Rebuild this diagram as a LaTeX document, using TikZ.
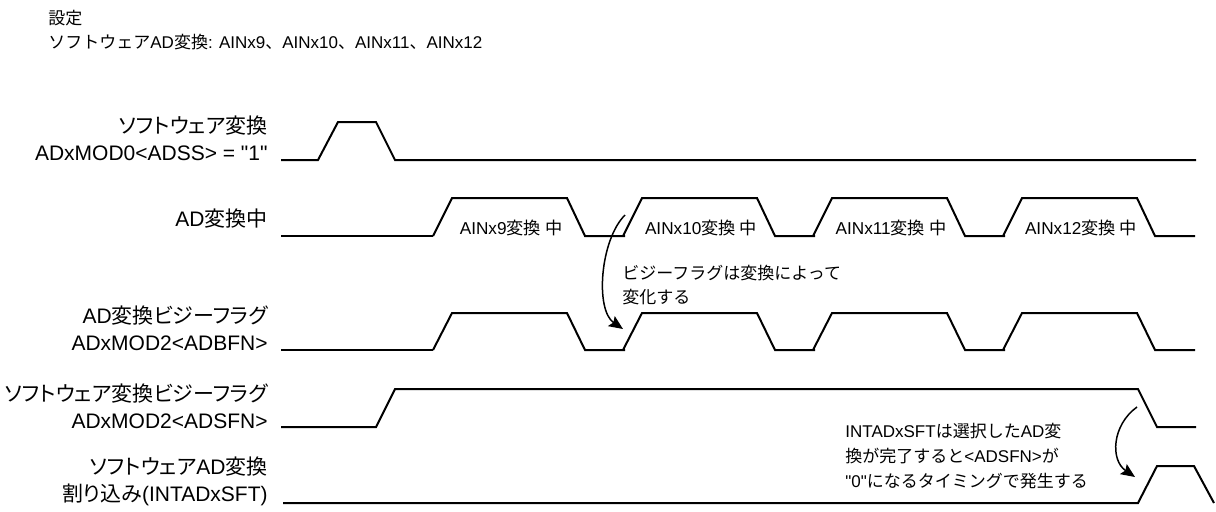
\documentclass[tikz,border=0pt]{standalone}
\usepackage{fontspec}
\setmainfont{Liberation Sans}[Ligatures=TeXOff]
\newfontfamily\jpfont{Noto Sans CJK JP}[RawFeature=+palt]
\newfontfamily\jpmfont{Noto Sans CJK JP}
\newcommand{\ja}[1]{{\jpfont #1}}
\newcommand{\jm}[1]{{\jpmfont #1}}
\usetikzlibrary{arrows.meta}
\tikzset{
  sig/.style={anchor=east, align=right, inner sep=0pt, font=\fontsize{10.5}{13.5}\selectfont},
  wave/.style={line width=1pt, line join=miter},
  pulsetxt/.style={font=\fontsize{8.6}{10}\selectfont, inner sep=0pt},
  note/.style={anchor=west, align=left, inner sep=0pt, font=\fontsize{8.5}{12}\selectfont},
  notearr/.style={-{Stealth[length=7pt, width=6pt, inset=1.2pt]}, line width=0.75pt},
}

\begin{document}
\begin{tikzpicture}[x=0.5pt, y=-0.5pt]
  \useasboundingbox (0,0) rectangle (1216,511);

  % header
  \node[note] (hdr) at (48,30)
    {\jm{設定}\\\jm{ソフトウェア}AD\jm{変換}: AINx9\jm{、}AINx10\jm{、}AINx11\jm{、}AINx12};

  % signal names
  \node[sig] (nadss) at (268,138) {\ja{ソフトウェア変換}\\ADxMOD0<ADSS> = "1"};
  \node[sig] (nconv) at (268,219) {AD\ja{変換中}};
  \node[sig] (nadbfn) at (268,328) {AD\ja{変換ビジーフラグ}\\ADxMOD2<ADBFN>};
  \node[sig] (nadsfn) at (268,406) {\ja{ソフトウェア変換ビジーフラグ}\\ADxMOD2<ADSFN>};
  \node[sig] (nint) at (268,481) {\ja{ソフトウェア}AD\ja{変換}\\\ja{割り込み}(INTADxSFT)};

  % ADSS
  \draw[wave] (281,160) -- (318,160) -- (338,122) -- (376,122) -- (395,160) -- (1196,160);

  % AD conversion / ADBFN
  \draw[wave] (281,236) -- (433,236);
  \draw[wave] (281,350) -- (433,350);
  \foreach \x/\n in {433/9, 623/10, 813/11, 1003/12} {
    \draw[wave] (\x,236) -- ++(19,-38) -- ++(115,0) -- ++(18,38) -- ++(40,0);
    \node[pulsetxt] (conv\n) at (\x+78,228) {AINx\n\jm{変換}\hspace{2pt}\jm{中}};
    \draw[wave] (\x,350) -- ++(19,-37) -- ++(115,0) -- ++(18,37) -- ++(40,0);
  }

  % ADSFN
  \draw[wave] (281,427) -- (376,427) -- (395,389) -- (1138,389) -- (1157,427) -- (1196,427);

  % INTADxSFT
  \draw[wave] (283,503) -- (1138,503) -- (1157,466) -- (1194,466) -- (1214,503);

  % notes
  \coordinate (bfsrc) at (625,215);
  \coordinate (bfdst) at (623,329);
  \draw[notearr] (bfsrc) .. controls (600,240) and (595,310) .. (bfdst);
  \node[note] (bfnote) at (622,285) {\jm{ビジーフラグは変換によって}\\\jm{変化する}};

  \coordinate (sfsrc) at (1137,407);
  \coordinate (sfdst) at (1135,477);
  \draw[notearr] (sfsrc) .. controls (1112,425) and (1110,460) .. (sfdst);
  \node[note, font=\fontsize{8.5}{12.5}\selectfont] (sfnote) at (845,456)
    {INTADxSFT\jm{は選択した}AD\jm{変}\\\jm{換が完了すると}<ADSFN>\jm{が}\\"0"\jm{になるタイミングで発生する}};
\end{tikzpicture}
\end{document}
